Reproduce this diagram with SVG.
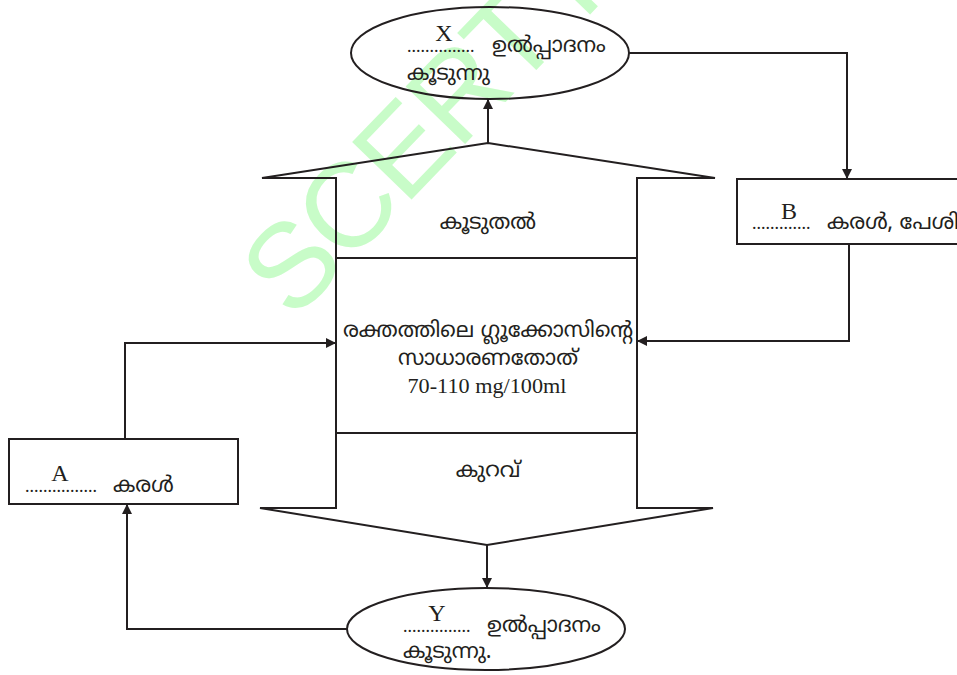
<svg xmlns="http://www.w3.org/2000/svg" width="957" height="675" viewBox="0 0 957 675">
<defs>
<marker id="ah" viewBox="0 0 10 10" refX="10" refY="5" markerWidth="10" markerHeight="10" markerUnits="userSpaceOnUse" orient="auto">
<path d="M0,0 L10,5 L0,10 z" fill="#231f20"/>
</marker>
<style>
.ln{fill:none;stroke:#231f20;stroke-width:2}
.sh{fill:none;stroke:#231f20;stroke-width:2}
.ml{font-family:"Noto Sans Malayalam","Noto Sans","DejaVu Sans",sans-serif;font-size:21.5px;fill:#231f20}
.sf{font-family:"Liberation Serif",serif;fill:#231f20}
.lt{font-size:24px}
.dt{font-size:18px}
.wm{font-family:"Liberation Sans",sans-serif;font-size:120px;letter-spacing:-3px;fill:#c8fcc8}
</style>
</defs>
<rect width="957" height="675" fill="#fff"/>
<text class="wm" transform="translate(293,322) rotate(-46)">SCERT Kerala</text>
<g id="main">
<polygon class="ln" points="488,143 715,178 637,178 637,508 713,508 487,545 260,508 336,508 336,178 262,178"/>
<line class="ln" x1="336" y1="258" x2="637" y2="258"/>
<line class="ln" x1="336" y1="433" x2="637" y2="433"/>
<text class="ml" x="488" y="229" text-anchor="middle">കൂടുതൽ</text>
<text class="ml" x="488" y="337" text-anchor="middle">രക്തത്തിലെ  ഗ്ലൂക്കോസിന്റെ</text>
<text class="ml" x="488" y="365" text-anchor="middle">സാധാരണതോത്</text>
<text class="sf" x="487" y="393" text-anchor="middle" font-size="22" textLength="159" lengthAdjust="spacingAndGlyphs">70-110 mg/100ml</text>
<text class="ml" x="488" y="477" text-anchor="middle">കുറവ്</text>
</g>
<g id="nodeX">
<ellipse class="sh" cx="490" cy="53" rx="139" ry="46"/>
<text class="sf lt" x="444" y="41" text-anchor="middle">X</text>
<text class="sf dt" x="407" y="52">...............</text>
<text class="ml" x="492" y="52">ഉൽപ്പാദനം</text>
<text class="ml" x="407" y="80">കൂടുന്നു</text>
</g>
<g id="nodeY">
<ellipse class="sh" cx="486" cy="629" rx="139" ry="41"/>
<text class="sf lt" x="437" y="621" text-anchor="middle">Y</text>
<text class="sf dt" x="403" y="632">...............</text>
<text class="ml" x="487" y="632">ഉൽപ്പാദനം</text>
<text class="ml" x="403" y="658">കൂടുന്നു.</text>
</g>
<g id="nodeA">
<rect class="sh" x="9" y="439" width="229" height="65"/>
<text class="sf lt" x="60" y="481" text-anchor="middle">A</text>
<text class="sf dt" x="25" y="492">................</text>
<text class="ml" x="113" y="492">കരൾ</text>
</g>
<g id="nodeB">
<rect class="sh" x="737" y="179" width="240" height="65"/>
<text class="sf lt" x="789" y="219" text-anchor="middle">B</text>
<text class="sf dt" x="752" y="229">.............</text>
<text class="ml" x="827" y="229">കരൾ, പേശി</text>
</g>
<g id="connectors">
<path class="ln" d="M488,143 V99" marker-end="url(#ah)"/>
<path class="ln" d="M629,53 H847 V179" marker-end="url(#ah)"/>
<path class="ln" d="M849,244 V341 H637" marker-end="url(#ah)"/>
<path class="ln" d="M125,439 V343 H336" marker-end="url(#ah)"/>
<path class="ln" d="M487,545 V588" marker-end="url(#ah)"/>
<path class="ln" d="M347,629 H127 V504" marker-end="url(#ah)"/>
</g>
</svg>
